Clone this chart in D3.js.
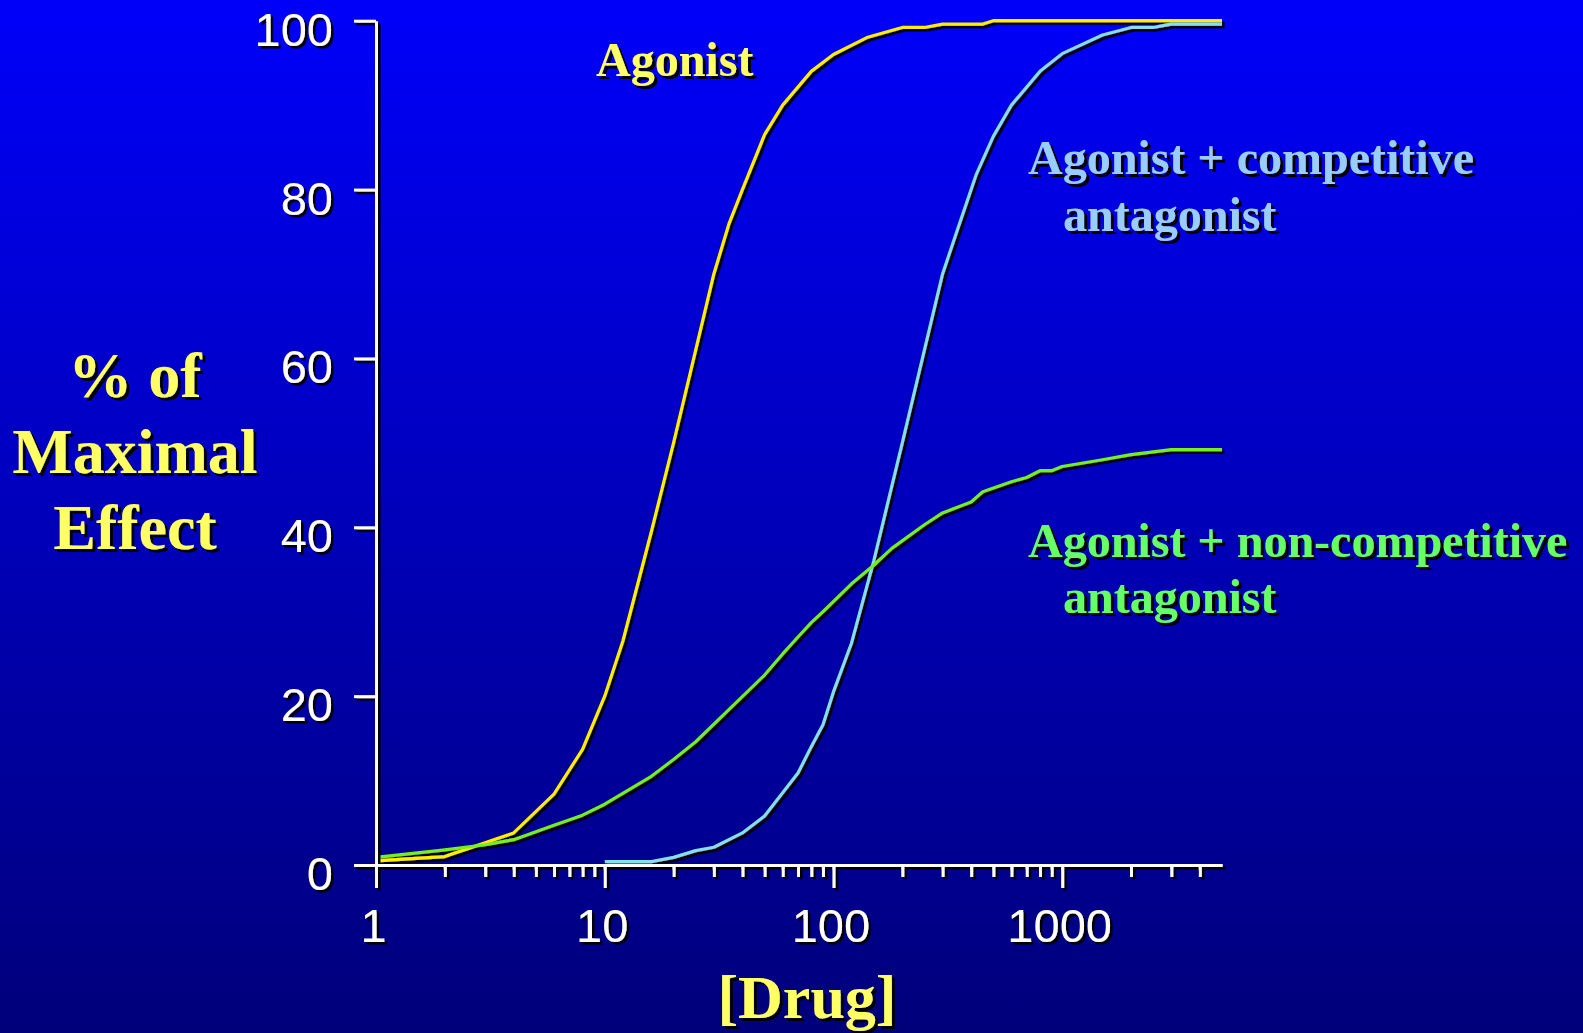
<!DOCTYPE html>
<html>
<head>
<meta charset="utf-8">
<script src="https://cdn.jsdelivr.net/npm/d3@7"></script>
<style>
  html, body { margin: 0; padding: 0; overflow: hidden; }
  svg { display: block; }
</style>
</head>
<body>
<svg id="chart" width="1583" height="1033"></svg>
<script>
// ---------------- data ----------------
const majorXTicks = [1, 10, 100, 1000];
const minorXTicks = [2,3,4,5,6,7,8,9, 20,30,40,50,60,70,80,90, 200,300,400,500,600,700,800,900, 2000,3000,4000];
const yTicks = [0, 20, 40, 60, 80, 100];

const agonistDose   = [1, 2, 4, 6, 8, 10, 12, 16, 20, 25, 30, 35, 40, 50, 60, 80, 100, 140, 200, 250, 300, 450, 500, 5000];
const agonistEffect = [0.5, 1, 3.8, 8.4, 13.7, 20, 26.5, 39.5, 50, 61, 70, 76, 80, 86.5, 90, 94, 96, 98, 99.2, 99.2, 99.6, 99.6, 100, 100];

const compDose   = [10, 16, 20, 25, 30, 40, 50, 70, 80, 90, 100, 120, 150, 200, 300, 350, 420, 500, 600, 800, 1000, 1500, 2000, 2500, 3000, 5000];
const compEffect = [0.4, 0.4, 0.9, 1.7, 2.1, 3.8, 5.8, 10.9, 14, 16.6, 20.5, 26.3, 36, 50, 70, 75.4, 81.7, 86.3, 90, 94, 96.1, 98.3, 99.2, 99.2, 99.6, 99.6];

const nonCompDose   = [1, 2, 3, 4, 6, 8, 10, 16, 20, 25, 50, 60, 70, 80, 90, 120, 150, 180, 250, 300, 400, 450, 600, 700, 800, 900, 1000, 1500, 2000, 3000, 5000];
const nonCompEffect = [0.9, 1.8, 2.4, 3.0, 4.7, 5.9, 7.2, 10.5, 12.5, 14.6, 22.5, 25, 27, 28.7, 30, 33.3, 35.5, 37.5, 40.3, 41.7, 43, 44.2, 45.4, 45.9, 46.7, 46.7, 47.2, 48, 48.6, 49.2, 49.2];

const seriesNames = ["Agonist", "Agonist + competitive antagonist", "Agonist + non-competitive antagonist"];

// ---------------- drawing ----------------
const svg = d3.select("#chart");
const W = 1583, H = 1033;

const defs = svg.append("defs");
const grad = defs.append("linearGradient").attr("id", "bg").attr("x1", 0).attr("y1", 0).attr("x2", 0).attr("y2", 1);
grad.append("stop").attr("offset", "0%").attr("stop-color", "#0000fa");
grad.append("stop").attr("offset", "100%").attr("stop-color", "#00007a");

const sh = defs.append("filter").attr("id", "sh").attr("x", "-10%").attr("y", "-10%").attr("width", "130%").attr("height", "130%");
sh.append("feDropShadow").attr("dx", 2.5).attr("dy", 2.5).attr("stdDeviation", 0).attr("flood-color", "#000").attr("flood-opacity", 1);
const shT = defs.append("filter").attr("id", "shT").attr("x", "-10%").attr("y", "-10%").attr("width", "130%").attr("height", "130%");
shT.append("feDropShadow").attr("dx", 3).attr("dy", 3).attr("stdDeviation", 0).attr("flood-color", "#000").attr("flood-opacity", 1);

svg.append("rect").attr("width", W).attr("height", H).attr("fill", "url(#bg)");

const x = d3.scaleLog().domain([1, 5000]).range([376, 1222]);
const y = d3.scaleLinear().domain([0, 100]).range([865, 20.7]);

// curves
const line = d3.line().x(d => x(d[0])).y(d => y(d[1]));
const curves = [
  { dose: agonistDose, eff: agonistEffect, color: "#ffee00" },
  { dose: compDose, eff: compEffect, color: "#88ddee" },
  { dose: nonCompDose, eff: nonCompEffect, color: "#77ee22" }
];
const gC = svg.append("g").attr("filter", "url(#sh)");
curves.forEach(c => {
  gC.append("path")
    .datum(c.dose.map((d, i) => [d, c.eff[i]]))
    .attr("d", line)
    .attr("fill", "none")
    .attr("stroke", c.color)
    .attr("stroke-width", 3.2)
    .attr("stroke-linejoin", "round");
});

// axes
const axisStyle = g => {
  g.selectAll(".domain").attr("stroke", "#fff").attr("stroke-width", 3);
  g.selectAll(".tick line").attr("stroke", "#fff").attr("stroke-width", 3);
  g.selectAll(".tick text").attr("fill", "#fff")
    .style("font-family", "'Liberation Sans', Arial, sans-serif").style("font-size", "47px");
};

const gAxes = svg.append("g").attr("filter", "url(#sh)");

gAxes.append("g").attr("transform", "translate(0,865)")
  .call(d3.axisBottom(x).tickValues(minorXTicks).tickSize(12).tickSizeOuter(0).tickFormat(""))
  .call(axisStyle);

gAxes.append("g").attr("transform", "translate(0,865)")
  .call(d3.axisBottom(x).tickValues(majorXTicks).tickSize(23).tickSizeOuter(0).tickPadding(21).tickFormat(d3.format("d")))
  .call(axisStyle)
  .call(g => g.selectAll(".tick text").attr("dx", "-3"));

gAxes.append("g").attr("transform", "translate(376,0)")
  .call(d3.axisLeft(y).tickValues(yTicks).tickSize(22).tickSizeOuter(0).tickPadding(21))
  .call(axisStyle)
  .call(g => g.selectAll(".tick text").attr("dy", "0.52em"));

// text labels
const serif = "'Liberation Serif', 'Times New Roman', serif";
const gT = svg.append("g").attr("filter", "url(#shT)")
  .style("font-family", serif).style("font-weight", "bold");

function label(lines, xs, ys, color, size, anchor) {
  lines.forEach((t, i) => {
    gT.append("text").attr("x", xs[i]).attr("y", ys[i])
      .attr("fill", color).attr("text-anchor", anchor || "start")
      .style("font-size", size + "px").text(t);
  });
}

label(["Agonist"], [596], [76], "#ffff66", 48);
label(["Agonist + competitive", "antagonist"], [1028, 1063], [174, 231], "#99ccff", 48);
label(["Agonist + non-competitive", "antagonist"], [1028, 1063], [557, 613], "#66ff66", 48);
label(["% of", "Maximal", "Effect"], [135, 135, 135], [397, 473, 549], "#ffff66", 64, "middle");
label(["[Drug]"], [807], [1018], "#ffff66", 62, "middle");
</script>
</body>
</html>
